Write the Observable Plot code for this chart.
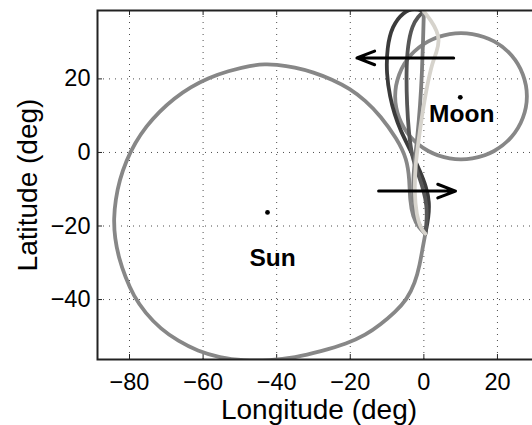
<!DOCTYPE html>
<html><head><meta charset="utf-8">
<script src="https://cdn.jsdelivr.net/npm/d3@7"></script>
<script src="https://cdn.jsdelivr.net/npm/@observablehq/plot@0.6"></script>
<style>html,body{margin:0;padding:0;background:#fff;overflow:hidden;} svg{display:block;overflow:hidden;}</style>
</head><body><div id="chart"></div><script>
// Sun path (closed loop with a tip at lower right)
const sunLon = [0.4,-1.4,-3.0,-3.8,-3.9,-4.6,-7.3,-11.8,-16,-20,-25,-30,-35,-40.4,-43,-47,-53.3,-58.5,-63.4,-67.9,-71.9,-75.4,-78.5,-80.9,-82.7,-83.8,-84.3,-84.0,-82.9,-81.1,-78.9,-75.7,-71.5,-66.8,-61.5,-55.5,-49,-42,-35,-28,-20.9,-15.8,-11.8,-7.8,-4.6,-2.4,-1.1,-0.3,0.4];
const sunLat = [-22.1,-20.5,-17.5,-13,-7.5,-1.7,3.7,10,14.2,17.3,19.9,21.8,23.2,23.9,24.0,23.7,22.1,20.3,17.8,14.7,11.1,7.2,2.6,-2.3,-7.5,-12.8,-18,-23.3,-28.7,-34,-39,-43.7,-48,-51.3,-54,-55.8,-56.6,-56.6,-55.8,-54.1,-52,-49.6,-46.8,-43.4,-40,-35.5,-30.5,-25.8,-22.1];
// Moon path (closed)
const moonLon = [28.0,26.9,23.8,19.1,13.2,7.0,1.2,-3.6,-6.7,-7.8,-6.7,-3.6,1.2,7.0,13.2,19.1,23.8,26.9];
const moonLat = [15.3,21.2,26.4,30.2,32.2,32.2,30.2,26.4,21.2,15.3,9.4,4.2,0.4,-1.6,-1.6,0.4,4.2,9.4];
// Four tracks between the top and the bottom meeting points
const trackALon = [0,-2.5,-5.5,-8.7,-10,-10.2,-9.2,-8,-6.4,-3.5,-1,0.7,1.5,1.3,0.4];
const trackALat = [38.4,39.3,38.3,34.3,28.5,21.5,15,10.5,6,0.3,-5.2,-9.5,-13.5,-17.5,-22.1];
const trackBLon = [0,-1.5,-3.2,-4.4,-4.8,-4.6,-4.1,-3.3,-1.5,0,0.8,0.8,0.4];
const trackBLat = [38.4,37,34.5,29.1,21.8,12.8,5.5,-1,-6,-10.5,-14.5,-18.5,-22.1];
const trackCLon = [0,-0.2,-0.5,-1,-1.8,-2.6,-3,-2.7,-1.6,0.4];
const trackCLat = [38.4,30.9,21.8,12.8,3.7,-3,-9,-15,-19.5,-22.1];
const trackDLon = [0,2,3.6,4.2,3.5,2.3,0.7,-0.5,-1.4,-2.3,-2.6,-2,-0.8,0.4];
const trackDLat = [38.4,35.8,33,30.5,27.3,24.5,17.3,10,3.7,-3.5,-10.8,-17.1,-20.8,-22.1];
// Arrows
const arrowLon1 = [8.1,-12.3];
const arrowLat1 = [25.7,-10.5];
const arrowLon2 = [-18.2,8.6];
const arrowLat2 = [25.7,-10.5];
// Centres and labels
const centreLon = [-42.5,9.9];
const centreLat = [-16.3,15.0];
const labelNames = ["Sun","Moon"];
const labelLon = [-41.1,10.3];
const labelLat = [-28.7,10.5];
// Axes
const xTicks = [-80,-60,-40,-20,0,20];
const xTickLabels = ["−80","−60","−40","−20","0","20"];
const yTicks = [-40,-20,0,20];
const yTickLabels = ["−40","−20","0","20"];
const xLabel = "Longitude (deg)";
const yLabel = "Latitude (deg)";

const pts = (lon, lat) => lon.map((v, i) => ({lon: v, lat: lat[i]}));
const sun = pts(sunLon, sunLat);
const moon = pts(moonLon, moonLat);
const tracks = [
  {d: pts(trackALon, trackALat), c: "#3b3b3b"},
  {d: pts(trackBLon, trackBLat), c: "#565656"},
  {d: pts(trackCLon, trackCLat), c: "#7f7f7f"},
  {d: pts(trackDLon, trackDLat), c: "#d6d3cc"}
];
const arrows = arrowLon1.map((v, i) => ({x1: v, y1: arrowLat1[i], x2: arrowLon2[i], y2: arrowLat2[i]}));
const centres = pts(centreLon, centreLat);
const labels = labelNames.map((n, i) => ({n, lon: labelLon[i], lat: labelLat[i]}));

const font = "'Liberation Sans', Arial, Helvetica, sans-serif";
const lineOpts = {x: "lon", y: "lat", strokeWidth: 3.8, clip: true, strokeLinejoin: "round"};

const chart = Plot.plot({
  width: 532, height: 425,
  marginLeft: 97, marginRight: -8, marginTop: 10, marginBottom: 66,
  x: {domain: [-88.7, 31.7]},
  y: {domain: [-56.3, 38.6]},
  style: {fontFamily: font, background: "white", color: "black"},
  marks: [
    Plot.gridX(xTicks, {stroke: "#000", strokeOpacity: 0.7, strokeWidth: 1, strokeDasharray: "1,5"}),
    Plot.gridY(yTicks, {stroke: "#000", strokeOpacity: 0.7, strokeWidth: 1, strokeDasharray: "1,5"}),
    Plot.tickX(xTicks, {x: d => d, insetTop: 344, stroke: "#222"}),
    Plot.tickX(xTicks, {x: d => d, insetBottom: 344, stroke: "#222"}),
    Plot.tickY(yTicks, {y: d => d, insetRight: 438, stroke: "#222"}),
    Plot.line(sun, {...lineOpts, stroke: "#878787", curve: "basis"}),
    Plot.line(moon, {...lineOpts, stroke: "#878787", curve: "catmull-rom-closed"}),
    ...tracks.map(t => Plot.line(t.d, {...lineOpts, stroke: t.c, curve: "basis"})),
    Plot.arrow(arrows, {x1: "x1", y1: "y1", x2: "x2", y2: "y2", stroke: "black", strokeWidth: 3, headLength: 9.5, headAngle: 42}),
    Plot.dot(centres, {x: "lon", y: "lat", r: 2.4, fill: "black", stroke: null}),
    Plot.text(labels, {x: "lon", y: "lat", text: "n", fontWeight: "bold", fontSize: 24.5, fill: "black", lineAnchor: "middle"}),
    Plot.frame({stroke: "#222", strokeWidth: 2}),
    Plot.axisX(xTicks, {tickSize: 0, tickPadding: 13.5, fontSize: 23.5, label: null, tickFormat: (d) => xTickLabels[xTicks.indexOf(d)]}),
    Plot.axisY(yTicks, {tickSize: 0, tickPadding: 7, fontSize: 23.5, label: null, tickFormat: (d) => yTickLabels[yTicks.indexOf(d)]}),
    Plot.text([xLabel], {frameAnchor: "bottom", textAnchor: "middle", dy: 59, lineAnchor: "bottom", fontSize: 28, fill: "black"}),
    Plot.text([yLabel], {frameAnchor: "left", textAnchor: "middle", rotate: -90, dx: -61, lineAnchor: "bottom", fontSize: 28, fill: "black"})
  ]
});
document.getElementById("chart").appendChild(chart);
</script></body></html>
